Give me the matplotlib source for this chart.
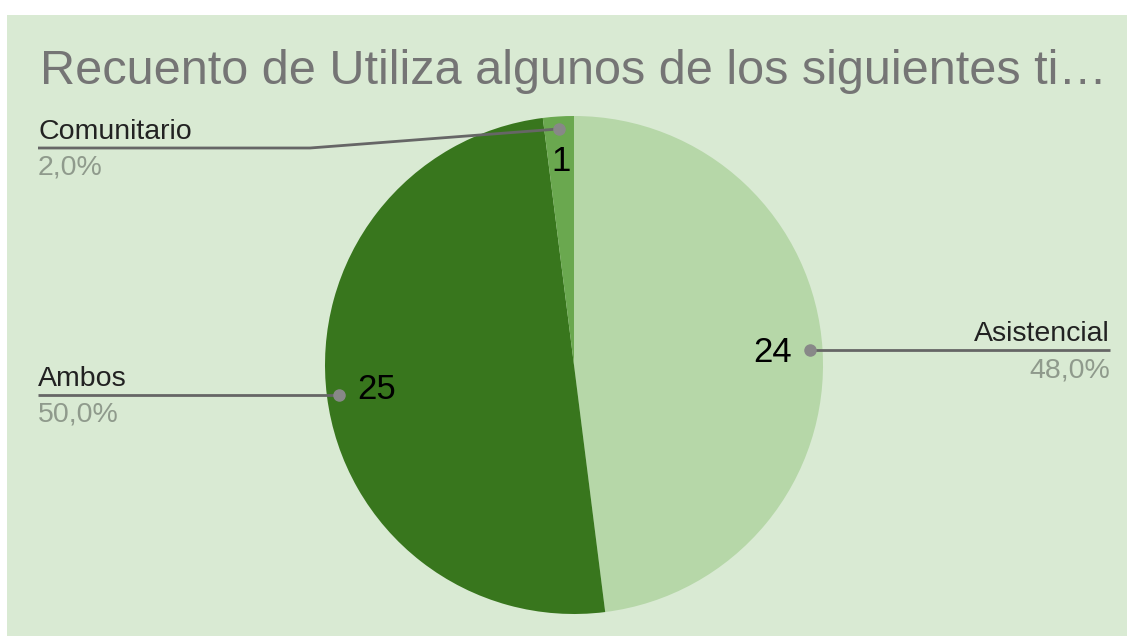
"""
Pie chart: Recuento de Utiliza algunos de los siguientes ti...
"""
import numpy as np
import matplotlib
matplotlib.use('Agg')
import matplotlib.pyplot as plt
from matplotlib.patches import Rectangle

plt.rcParams['font.family'] = ['Liberation Sans', 'DejaVu Sans']

# Data
categories = ['Asistencial', 'Ambos', 'Comunitario']
counts = [24, 25, 1]
pct_labels = ['48,0%', '50,0%', '2,0%']
slice_colors = ['#b6d7a8', '#38761d', '#6aa84f']

title = 'Recuento de Utiliza algunos de los siguientes ti\u2026'

W, H = 1127, 637
fig = plt.figure(figsize=(W / 100, H / 100), dpi=100, facecolor='white')
ax = fig.add_axes([0, 0, 1, 1])

# light green card behind the chart
ax.add_patch(Rectangle((7, 1), W - 7, H - 16, facecolor='#d9ead3', edgecolor='none', zorder=0))

cx, cy, r = 574, H - 365, 249
wedges, _ = ax.pie(counts, colors=slice_colors, startangle=90, counterclock=False,
                   center=(cx, cy), radius=r, wedgeprops=dict(linewidth=0))

ax.set_xlim(0, W)
ax.set_ylim(0, H)
ax.set_aspect('auto')
ax.axis('off')

ax.text(40, H - 84, title, fontsize=35, color='#757575', va='baseline', ha='left')

# label placement: (x of text anchor, y of leader line, alignment, bend x)
label_pos = {
    'Asistencial': (1110, None, 'right', None),
    'Ambos': (38, None, 'left', None),
    'Comunitario': (38, H - 148, 'left', 310),
}

for w, cat, n, pct in zip(wedges, categories, counts, pct_labels):
    mid = np.deg2rad((w.theta1 + w.theta2) / 2)
    # value inside the slice
    k = 0.82 if n == 1 else 0.8
    vx, vy = cx + k * r * np.cos(mid), cy + k * r * np.sin(mid)
    ax.text(vx, vy, str(n), fontsize=25, color='#000000', ha='center', va='center')

    # leader line
    dx, dy = cx + 0.95 * r * np.cos(mid), cy + 0.95 * r * np.sin(mid)
    tx, ly, ha, bend = label_pos[cat]
    if ly is None:
        ly = dy
    if bend is None:
        xs, ys = [dx, tx], [dy, ly]
    else:
        xs, ys = [dx, bend, tx], [dy, ly, ly]
    ax.plot(xs, ys, color='#666666', linewidth=2, solid_capstyle='butt', zorder=3)
    ax.plot([dx], [dy], 'o', color='#888888', markersize=8, zorder=4)

    ax.text(tx, ly + 9, cat, fontsize=20.5, color='#222222', ha=ha, va='baseline')
    ax.text(tx, ly - 27, pct, fontsize=20.5, color='#8f9a8c', ha=ha, va='baseline')

fig.savefig('out.png', dpi=100, facecolor=fig.get_facecolor())
